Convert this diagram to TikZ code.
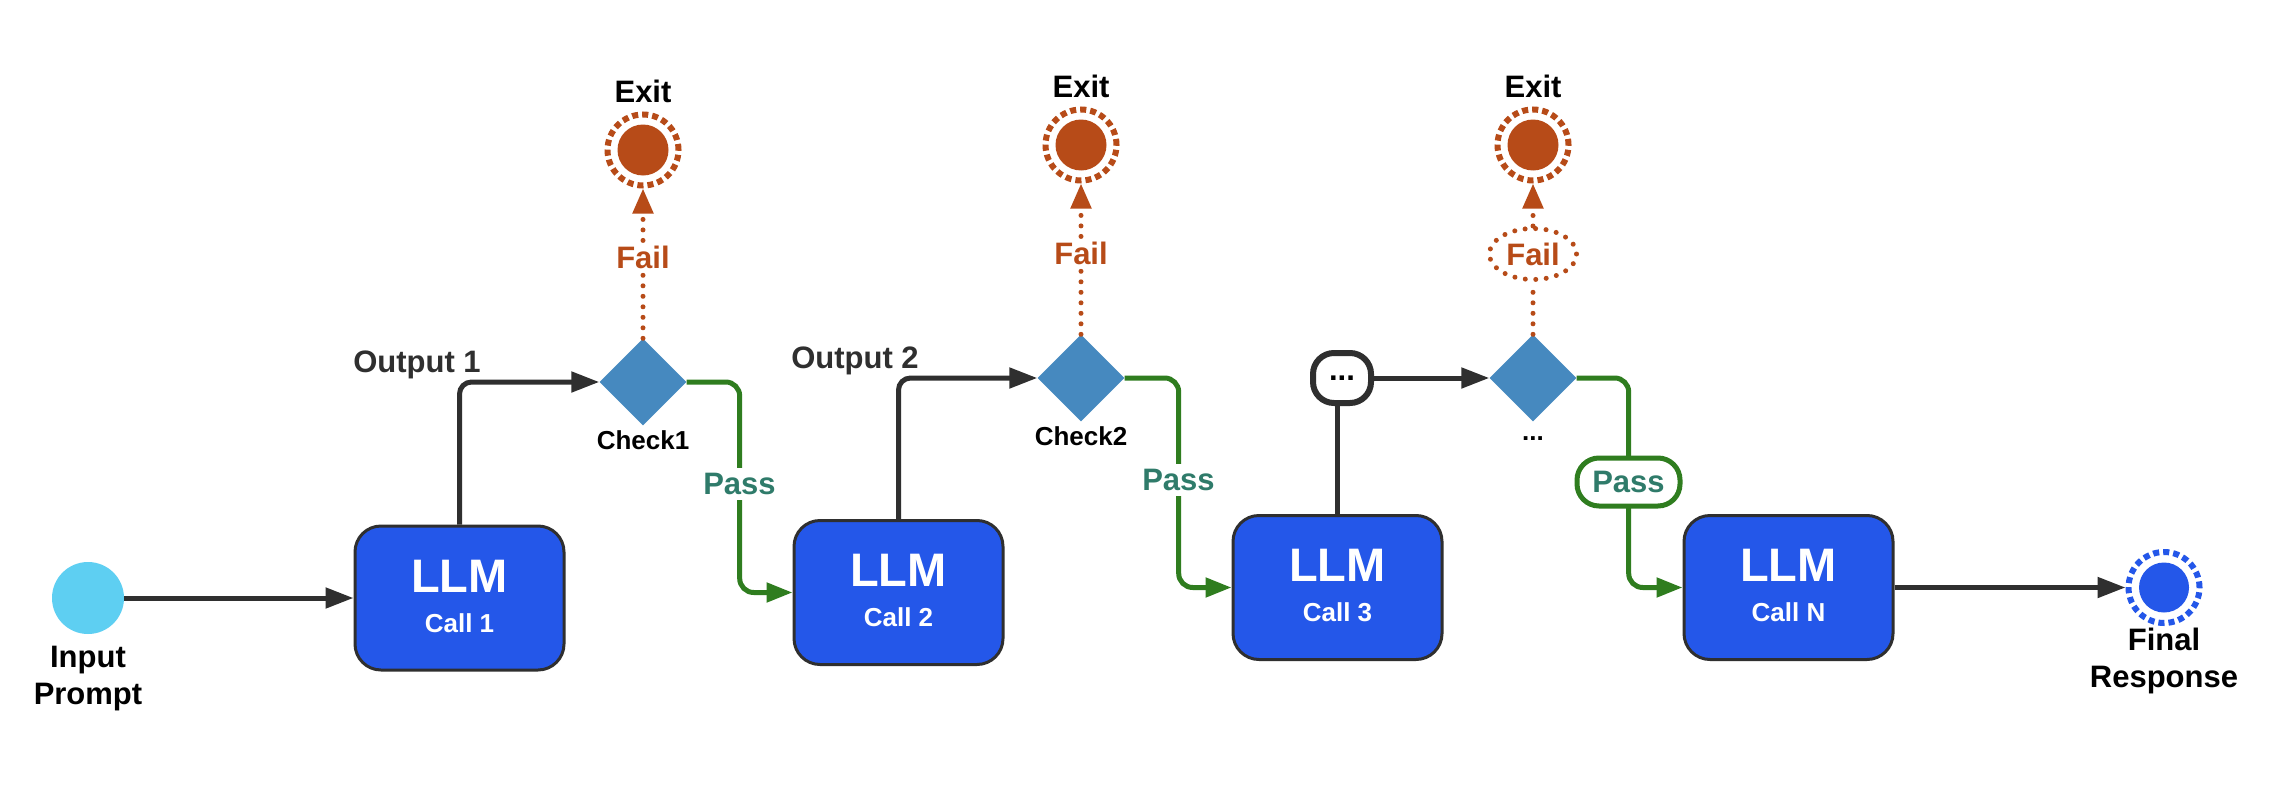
\documentclass[tikz,border=0pt]{standalone}
\usepackage{fontspec}
\setmainfont{Liberation Sans}
\usetikzlibrary{arrows.meta,shapes.geometric}
\definecolor{boxblue}{HTML}{2457E9}
\definecolor{inputcyan}{HTML}{5ECFF2}
\definecolor{diamondblue}{HTML}{4689BF}
\definecolor{rust}{HTML}{B74B18}
\definecolor{greenline}{HTML}{2F7D1F}
\definecolor{passteal}{HTML}{2F7B6A}
\definecolor{darkline}{HTML}{2F2F2F}
\begin{document}
\begin{tikzpicture}[x=1pt,y=-1pt]
\tikzset{
  llmbox/.style={draw=darkline, line width=3pt, fill=boxblue, rounded corners=26pt,
    minimum width=209pt, minimum height=144pt, inner sep=0pt},
  llmtxt/.style={text=white, font=\fontsize{47}{47}\selectfont\bfseries, inner sep=0pt, anchor=base},
  calltxt/.style={text=white, font=\fontsize{26}{26}\selectfont\bfseries, inner sep=0pt, anchor=base},
  lbl/.style={font=\fontsize{31}{37}\selectfont\bfseries, align=center, inner sep=0pt},
  smalllbl/.style={font=\fontsize{26}{30}\selectfont\bfseries, inner sep=0pt, anchor=base},
  check/.style={diamond, fill=diamondblue, minimum width=87pt, minimum height=87pt, inner sep=0pt, aspect=1},
  inputdot/.style={circle, fill=inputcyan, minimum size=72pt, inner sep=0pt},
  ring/.style={circle, draw=#1, line width=6pt, dash pattern=on 6.1pt off 4pt, minimum size=71pt, inner sep=0pt},
  flow/.style={draw=darkline, line width=5pt, rounded corners=12pt, -{Triangle[length=28pt,width=20pt]}},
  passflow/.style={draw=greenline, line width=5pt, rounded corners=14pt, -{Triangle[length=26pt,width=19pt]}},
  faildot/.style={draw=rust, line width=5pt, line cap=round, dash pattern=on 0pt off 10.5pt},
  failtip/.style={-{Triangle[length=25pt,width=20pt]}},
  faillbl/.style={lbl, text=rust, fill=white, inner sep=5pt},
  passlbl/.style={lbl, text=passteal, fill=white, inner sep=5pt},
  outlbl/.style={lbl, text=darkline, anchor=base},
}
\useasboundingbox (0,0) rectangle (2280,800);
\fill[white] (0,0) rectangle (2280,800);

% input
\node[inputdot] (in) at (88,598) {};
\node[lbl, anchor=north] (inl) at (88,646) {Input\\Prompt};

% LLM boxes
\node[llmbox] (c1) at (459.5,598) {};
\node[llmtxt] (c1a) at (459.5,592) {LLM};
\node[calltxt] (c1b) at (459.5,632) {Call 1};

\node[llmbox] (c2) at (898.5,592.5) {};
\node[llmtxt] (c2a) at (898.5,586.5) {LLM};
\node[calltxt] (c2b) at (898.5,626.5) {Call 2};

\node[llmbox] (c3) at (1337.5,587.5) {};
\node[llmtxt] (c3a) at (1337.5,581.5) {LLM};
\node[calltxt] (c3b) at (1337.5,621.5) {Call 3};

\node[llmbox] (cN) at (1788.5,587.5) {};
\node[llmtxt] (cNa) at (1788.5,581.5) {LLM};
\node[calltxt] (cNb) at (1788.5,621.5) {Call N};

% checks
\node[check] (d1) at (643,382) {};
\node[smalllbl] (k1) at (643,449) {Check1};
\node[check] (d2) at (1081,378) {};
\node[smalllbl] (k2) at (1081,445) {Check2};
\node[check] (d3) at (1533,378) {};
\node[smalllbl] (k3) at (1533,440) {...};

% exits
\node[ring=rust] (x1) at (643,150) {};
\fill[rust] (x1.center) circle[radius=25.5];
\node[lbl, anchor=base] (e1) at (643,102) {Exit};
\node[ring=rust] (x2) at (1081,145) {};
\fill[rust] (x2.center) circle[radius=25.5];
\node[lbl, anchor=base] (e2) at (1081,97) {Exit};
\node[ring=rust] (x3) at (1533,145) {};
\fill[rust] (x3.center) circle[radius=25.5];
\node[lbl, anchor=base] (e3) at (1533,97) {Exit};

% final
\node[ring=boxblue] (fin) at (2164,587.5) {};
\fill[boxblue] (fin.center) circle[radius=25];
\node[lbl, anchor=north] (finl) at (2164,628) {Final\\Response};

% fail labels
\node[faillbl] (f1) at (643,257) {Fail};
\node[faillbl] (f2) at (1081,253) {Fail};
\node[lbl, text=rust, draw=rust, fill=white, ellipse, line width=5pt, line cap=round,
  dash pattern=on 0pt off 10.5pt, minimum width=87pt, minimum height=51pt, inner sep=0pt] (f3) at (1533,254) {Fail};

\draw[faildot] (d1.north) -- (f1.south);
\draw[faildot, failtip] (f1.north) -- (x1.south);
\draw[faildot] (d2.north) -- (f2.south);
\draw[faildot, failtip] (f2.north) -- (x2.south);
\draw[faildot] (d3.north) -- (f3.south);
\draw[faildot, failtip] (f3.north) -- (x3.south);

% dots node
\node[draw=darkline, line width=6pt, fill=white, rounded corners=21pt, minimum width=58pt,
  minimum height=50pt, inner sep=0pt, font=\fontsize{31}{31}\selectfont\bfseries] (dots) at (1342,378) {...};

% output labels
\node[outlbl] (o1) at (417,372) {Output 1};
\node[outlbl] (o2) at (855,368) {Output 2};

% dark connectors
\draw[flow] (in.east) -- (c1.west);
\draw[flow] (c1.north) |- (d1.west);
\draw[flow] (c2.north) |- (d2.west);
\draw[draw=darkline, line width=5pt] (c3.north) -- (c3.north |- dots.south);
\draw[flow] (dots.east) -- (d3.west);
\draw[flow] (cN.east) -- (fin.west);

% green connectors
\draw[passflow] (d1.east) -- ++(53,0) |- (c2.west);
\draw[passflow] (d2.east) -- ++(54,0) |- (c3.west);
\draw[passflow] (d3.east) -- ++(52,0) |- (cN.west);

% pass labels
\node[passlbl] (p1) at (739.5,484) {Pass};
\node[passlbl] (p2) at (1178.5,480) {Pass};
\node[lbl, text=passteal, draw=greenline, line width=5pt, fill=white, rounded corners=22pt,
  minimum width=103pt, minimum height=48pt, inner sep=0pt] (p3) at (1628.5,482) {Pass};
\end{tikzpicture}
\end{document}
